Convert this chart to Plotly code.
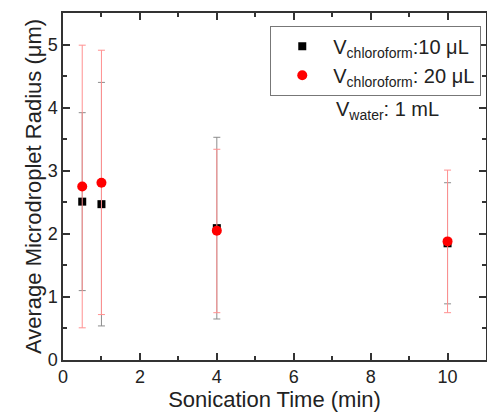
import plotly.graph_objects as go

time_min = [0.5, 1, 4, 10]

r10_mean = [2.51, 2.47, 2.09, 1.85]
r10_err_plus = [1.41, 1.93, 1.44, 0.96]
r10_err_minus = [1.41, 1.93, 1.44, 0.96]

r20_mean = [2.75, 2.81, 2.05, 1.88]
r20_err_plus = [2.24, 2.10, 1.29, 1.13]
r20_err_minus = [2.24, 2.09, 1.30, 1.13]

FONT = "Arial, 'Liberation Sans', sans-serif"

fig = go.Figure()
fig.add_trace(go.Scatter(
    x=time_min, y=r10_mean, mode="markers",
    name="V<sub>chloroform</sub>:10 μL",
    marker=dict(symbol="square", size=8, color="black"),
    error_y=dict(type="data", symmetric=False, array=r10_err_plus,
                 arrayminus=r10_err_minus, color="#8c8c8c",
                 thickness=1, width=3.5),
))
fig.add_trace(go.Scatter(
    x=time_min, y=r20_mean, mode="markers",
    name="V<sub>chloroform</sub>: 20 μL",
    marker=dict(symbol="circle", size=10, color="red"),
    error_y=dict(type="data", symmetric=False, array=r20_err_plus,
                 arrayminus=r20_err_minus, color="#ff9090",
                 thickness=1, width=3.5),
))

axis_common = dict(
    showline=True, linecolor="#333", linewidth=1.5, mirror="ticks",
    ticks="inside", ticklen=7, tickwidth=1.5, tickcolor="#333",
    showgrid=False, zeroline=False,
    tickfont=dict(size=18, color="#222", family=FONT),
)

fig.update_xaxes(
    range=[0, 11], dtick=2, tick0=0,
    minor=dict(ticks="inside", ticklen=4, dtick=1, tickcolor="#333", tickwidth=1.5),
    title=dict(text="Sonication Time (min)", font=dict(size=22, family=FONT, color="#222"), standoff=4),
    **axis_common,
)
fig.update_yaxes(
    range=[0, 5.5], dtick=1, tick0=0,
    minor=dict(ticks="inside", ticklen=4, dtick=0.5, tickcolor="#333", tickwidth=1.5),
    title=dict(text="Average Microdroplet Radius (μm)", font=dict(size=22, family=FONT, color="#222"), standoff=0),
    **axis_common,
)

fig.add_annotation(
    x=0.64, y=0.72, xref="paper", yref="paper", xanchor="left", yanchor="middle",
    text="V<sub>water</sub>: 1 mL", showarrow=False,
    font=dict(size=20, family=FONT, color="#222"),
)

fig.update_layout(
    width=487, height=414,
    margin=dict(l=63, r=1, t=13, b=54, autoexpand=False),
    paper_bgcolor="white", plot_bgcolor="white",
    font=dict(family=FONT, color="#222"),
    legend=dict(
        x=0.49, y=0.963, xanchor="left", yanchor="top",
        bordercolor="#777", borderwidth=1, bgcolor="white",
        font=dict(size=20, family=FONT, color="#222"),
        itemwidth=52,
    ),
)

fig.write_html(
    "out.html",
    config={"displayModeBar": False},
    post_script="document.body.style.margin='0';document.body.style.padding='0';",
)
